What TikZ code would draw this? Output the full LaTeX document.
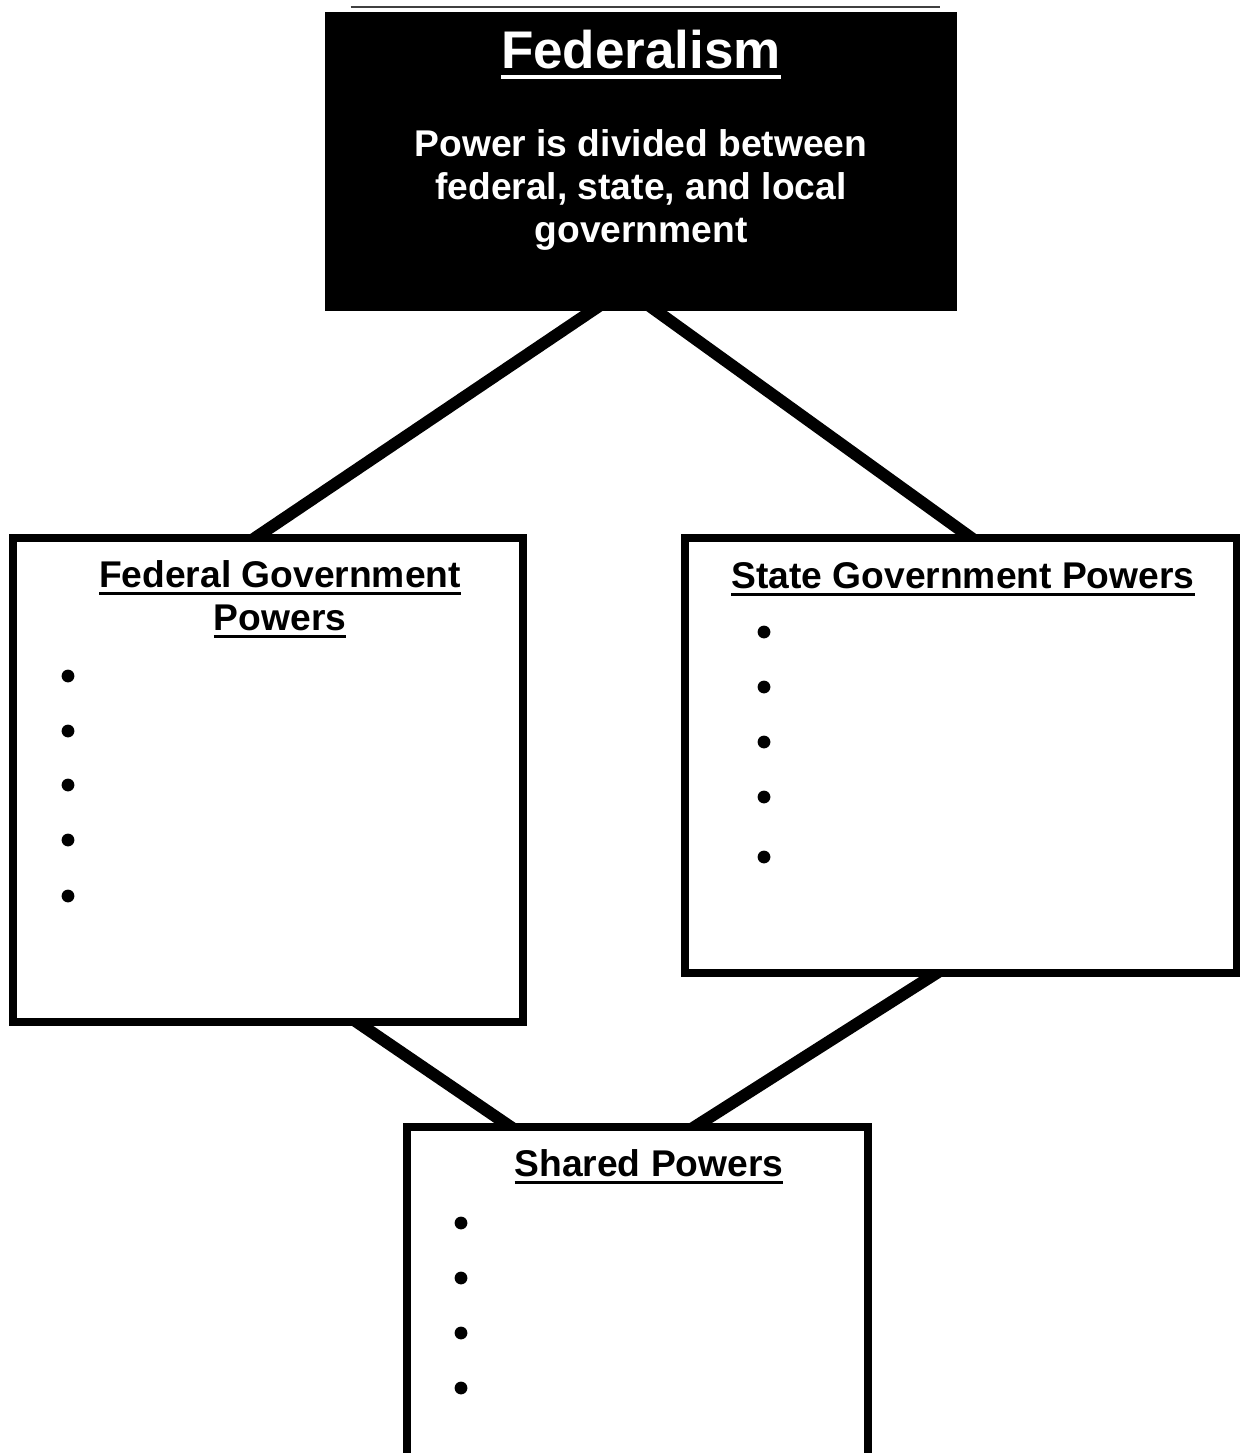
\documentclass[tikz,border=0pt]{standalone}
\usepackage{fontspec}
\setmainfont{Liberation Sans}
\usetikzlibrary{calc}
\pgfdeclarelayer{bg}
\pgfsetlayers{bg,main}
\newcommand{\ulh}[1]{\setbox0\hbox{#1}\rlap{\rule[-4pt]{\wd0}{1.5pt}}\box0}
\newcommand{\ult}[1]{\setbox0\hbox{#1}\rlap{\rule[-5.7pt]{\wd0}{2.2pt}}\box0}
\begin{document}
\begin{tikzpicture}[x=0.5pt,y=-0.5pt,
  hfont/.style={font=\bfseries\fontsize{18.6pt}{21.5pt}\selectfont},
  box/.style={draw,line width=4pt,fill=white,inner sep=0pt},
  conn/.style={line width=6pt},
  bullet/.style={circle,fill=black,inner sep=0pt,minimum size=6.4pt}]
\useasboundingbox (0,0) rectangle (1239,1453);
% top box
\node[fill=black,inner sep=0pt,minimum width=316pt,minimum height=149.5pt] (top) at (641,161.5) {};
\draw[black!75,line width=1pt] ($(top.north west)+(26,-5)$) -- ($(top.north east)+(-17,-5)$);
\node[text=white,font=\bfseries\fontsize{26.5pt}{30pt}\selectfont,anchor=base,inner sep=0pt] (title) at (641,68) {\ult{Federalism}};
\node[text=white,hfont,align=center,anchor=base,inner sep=0pt] (desc) at (641,242) {Power is divided between\\federal, state, and local\\government};
% federal box
\node[box,minimum width=255pt,minimum height=242pt] (fed) at (268,780) {};
\node[hfont,align=center,anchor=base,inner sep=0pt] (fedh) at (280,630) {\ulh{Federal Government}\\\ulh{Powers}};
% state box
\node[box,minimum width=276pt,minimum height=217.5pt] (state) at (961,755.5) {};
\node[hfont,anchor=base,inner sep=0pt] (stateh) at (963,588) {\ulh{State Government Powers}};
% shared box
\node[fill=white,inner sep=0pt,minimum width=230.5pt,minimum height=163pt] (sh) at (637.5,1290) {};
\draw[line width=4pt] (sh.south west) |- (sh.north east) -- (sh.south east);
\node[hfont,anchor=base,inner sep=0pt] (shh) at (649,1176) {\ulh{Shared Powers}};
% bullets
\foreach \y [count=\i] in {676,731,785,840,896} \node[bullet] (fb\i) at (68,\y) {};
\foreach \y [count=\i] in {632,687,742,797,857} \node[bullet] (sb\i) at (764,\y) {};
\foreach \y [count=\i] in {1223,1278,1333,1388} \node[bullet] (hb\i) at (461,\y) {};
% connectors
\begin{pgfonlayer}{bg}
\draw[conn] ($(top.south)+(-38,-8)$) -- ($(fed.north)+(-19,8)$);
\draw[conn] ($(top.south)+(5,-8)$) -- ($(state.north)+(16,8)$);
\draw[conn] ($(fed.south)+(83,-8)$) -- ($(sh.north)+(-115.5,8)$);
\draw[conn] ($(state.south)+(-18,-8)$) -- ($(sh.north)+(45,8)$);
\end{pgfonlayer}
\end{tikzpicture}
\end{document}
